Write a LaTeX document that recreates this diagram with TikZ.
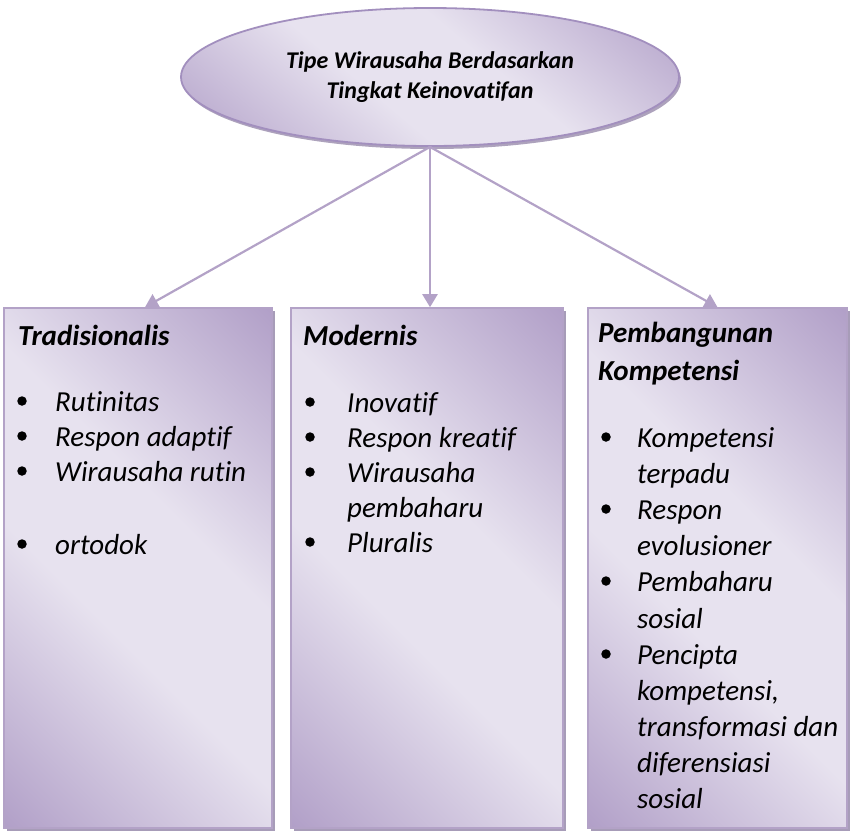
\documentclass[tikz,border=0pt]{standalone}
\usepackage{fontspec}
\setmainfont{Carlito}[Ligatures={NoCommon}]
\usetikzlibrary{arrows.meta,shapes.geometric,shadows}

\definecolor{lavlight}{HTML}{E7E2EF}
\definecolor{lavdark}{HTML}{AC99C4}
\definecolor{lavline}{HTML}{B3A2C7}
\definecolor{lavedge}{HTML}{A28FBE}
\definecolor{lavshadow}{HTML}{8A7BA0}

% diagonal fill: dark corners, broad light band through the middle
\pgfdeclareverticalshading{lavband}{100bp}{%
  color(0bp)=(lavdark); color(12bp)=(lavdark); color(42bp)=(lavlight);
  color(58bp)=(lavlight); color(88bp)=(lavdark); color(100bp)=(lavdark)}

\tikzset{
  panel/.style={draw=lavline, line width=1.6pt,
    shading=lavband, shading angle=-45, inner sep=0pt, rectangle,
    drop shadow={shadow xshift=2.5pt, shadow yshift=-2.5pt, fill=lavshadow, opacity=.75}},
  oval/.style={ellipse, draw=lavedge, line width=1.8pt,
    shading=lavband, shading angle=-40, inner sep=0pt,
    drop shadow={shadow xshift=2pt, shadow yshift=-3pt, fill=lavshadow, opacity=.7}},
  link/.style={draw=lavline, line width=2.2pt, -{Triangle[width=15pt,length=13pt]}},
  head/.style={anchor=base west, inner sep=0pt, font=\fontsize{29}{34}\selectfont\bfseries\itshape},
  item/.style={anchor=base west, inner sep=0pt, font=\fontsize{29}{34}\selectfont\itshape},
  dot/.style={circle, fill=black, inner sep=0pt, minimum size=9.5pt, yshift=10pt},
}

\begin{document}
\begin{tikzpicture}[x=1pt, y=-1pt]
  \useasboundingbox (0,0) rectangle (850,831);

  % root ellipse
  \node[oval, minimum width=498pt, minimum height=138pt,
        font=\fontsize{24}{30}\selectfont\bfseries\itshape, align=center]
        (root) at (430,77) {Tipe Wirausaha Berdasarkan\\Tingkat Keinovatifan};

  % three category panels
  \node[panel, minimum width=268pt, minimum height=520pt] (b1) at (138,568) {};
  \node[panel, minimum width=272pt, minimum height=520pt] (b2) at (427,568) {};
  \node[panel, minimum width=259pt, minimum height=520pt] (b3) at (717.5,568) {};

  % connectors
  \draw[link] (root.south) -- ([xshift=7pt]b1.north);
  \draw[link] (root.south) -- ([xshift=3pt]b2.north);
  \draw[link] (root.south) -- (b3.north);

  % panel 1: Tradisionalis
  \node[head] (h1) at (18,345) {Tradisionalis};
  \foreach \y/\t [count=\i] in {411/Rutinitas, 446/Respon adaptif, 481/Wirausaha rutin, 554/ortodok}{
    \node[dot]  (p1d\i) at (22,\y) {};
    \node[item] (p1t\i) at (55,\y) {\t};
  }

  % panel 2: Modernis
  \node[head] (h2) at (303,345) {Modernis};
  \foreach \y/\t [count=\i] in {412/Inovatif, 447/Respon kreatif, 482/Wirausaha, 552/Pluralis}{
    \node[dot]  (p2d\i) at (310,\y) {};
    \node[item] (p2t\i) at (347,\y) {\t};
  }
  \node[item] (p2x) at (347,517) {pembaharu};

  % panel 3: Pembangunan Kompetensi
  \node[head] (h3a) at (598,342) {Pembangunan};
  \node[head] (h3b) at (598,380) {Kompetensi};
  \foreach \y [count=\i] in {447,519,591,664}{
    \node[dot] (p3d\i) at (606,\y) {};
  }
  \foreach \y/\t [count=\i] in {447/Kompetensi, 483/terpadu, 519/Respon, 555/evolusioner,
      591/Pembaharu, 628/sosial, 664/Pencipta, 700/{kompetensi,}, 736/transformasi dan,
      772/diferensiasi, 808/sosial}{
    \node[item] (p3t\i) at (637,\y) {\t};
  }
\end{tikzpicture}
\end{document}
